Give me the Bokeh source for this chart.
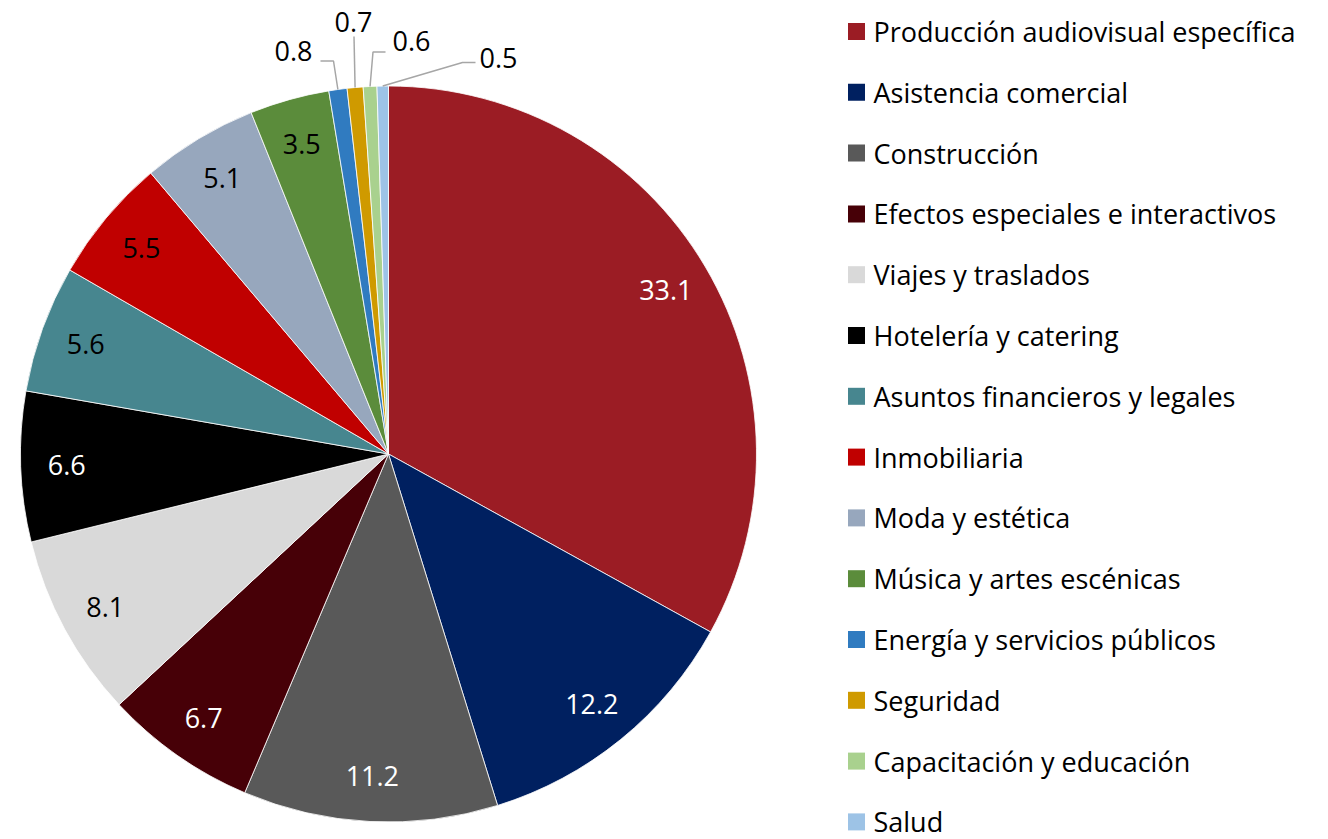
import math
from bokeh.plotting import figure
from bokeh.models import Range1d, ColumnDataSource
from bokeh.core.properties import value
from bokeh.embed import file_html
from bokeh.resources import INLINE

# ---------------- data ----------------
categories = [
    "Producción audiovisual específica",
    "Asistencia comercial",
    "Construcción",
    "Efectos especiales e interactivos",
    "Viajes y traslados",
    "Hotelería y catering",
    "Asuntos financieros y legales",
    "Inmobiliaria",
    "Moda y estética",
    "Música y artes escénicas",
    "Energía y servicios públicos",
    "Seguridad",
    "Capacitación y educación",
    "Salud",
]
shares = [33.1, 12.2, 11.2, 6.7, 8.1, 6.6, 5.6, 5.5, 5.1, 3.5, 0.8, 0.7, 0.6, 0.5]
colors = [
    "#9B1C24", "#002060", "#595959", "#470007", "#D9D9D9", "#000000", "#47868F",
    "#C00000", "#97A7BD", "#5B8C3B", "#307BC0", "#CF9A00", "#A9D18E", "#9DC3E6",
]
label_colors = [
    "white", "white", "white", "white", "black", "white", "black",
    "black", "black", "black", "black", "black", "black", "black",
]

# ---------------- style / layout ----------------
FONT = value("Open Sans")
FS = "27px"
W, H = 1328, 839
CX, CY, R = 388.0, 453.5, 368.0      # pie centre / radius in page pixels
LABEL_R = 0.875 * R
N_INSIDE = 10                          # first slices carry labels inside
# outside labels for the small slices: (elbow x, elbow y, end x, end y, text x, text y)
outside_style = [
    (333, 60.5, 320, 60.5, 293, 50),
    (353.5, 36, 353.5, 36, 353, 21),
    (372.5, 51.5, 385, 51.5, 411, 40),
    (462, 62, 475, 62, 498, 57),
]

p = figure(width=W, height=H, x_range=Range1d(0, W), y_range=Range1d(-H, 0),
           output_backend="svg", toolbar_location=None, x_axis_type=None, y_axis_type=None,
           min_border=0, outline_line_color=None)
p.xgrid.visible = False
p.ygrid.visible = False
p.background_fill_color = "white"
p.border_fill_color = "white"

total = sum(shares)
starts, ends, mids = [], [], []
cum = 0.0
for v in shares:
    c0 = cum / total
    c1 = (cum + v) / total
    # clockwise from 12 o'clock -> bokeh angles (counter-clockwise from +x)
    starts.append(math.radians(90 - 360 * c1))
    ends.append(math.radians(90 - 360 * c0))
    mids.append(math.radians(90 - 360 * (c0 + c1) / 2))
    cum += v

src = ColumnDataSource(dict(start=starts, end=ends, color=colors))
p.wedge(x=CX, y=-CY, radius=R, start_angle="start", end_angle="end", direction="anticlock",
        fill_color="color", line_color="white", line_width=0.8, source=src)

# inside labels
lx = [CX + LABEL_R * math.cos(a) for a in mids[:N_INSIDE]]
ly = [-CY + LABEL_R * math.sin(a) for a in mids[:N_INSIDE]]
p.text(x=lx, y=ly, text=[f"{v:.1f}" for v in shares[:N_INSIDE]],
       text_color=label_colors[:N_INSIDE], text_font=FONT, text_font_size=FS,
       text_align="center", text_baseline="middle")

# outside labels with leader lines
for k, (ex, ey, tx, ty, lxo, lyo) in enumerate(outside_style):
    i = N_INSIDE + k
    a = mids[i]
    sx, sy = CX + R * math.cos(a), -CY + R * math.sin(a)
    p.line(x=[sx, ex, tx], y=[sy, -ey, -ty], line_color="#A6A6A6", line_width=1.5)
    p.text(x=[lxo], y=[-lyo], text=[f"{shares[i]:.1f}"], text_color="black",
           text_font=FONT, text_font_size=FS, text_align="center", text_baseline="middle")

# legend
LEG_X, LEG_Y0, LEG_DY = 856, 31, 60.8
ly_leg = [-(LEG_Y0 + i * LEG_DY) for i in range(len(categories))]
p.rect(x=[LEG_X] * len(categories), y=ly_leg, width=17, height=17,
       fill_color=colors, line_color=None)
p.text(x=[LEG_X + 17] * len(categories), y=ly_leg, text=categories, text_color="black",
       text_font=FONT, text_font_size=FS, text_align="left", text_baseline="middle")

open("out.html", "w").write(file_html(p, INLINE))
